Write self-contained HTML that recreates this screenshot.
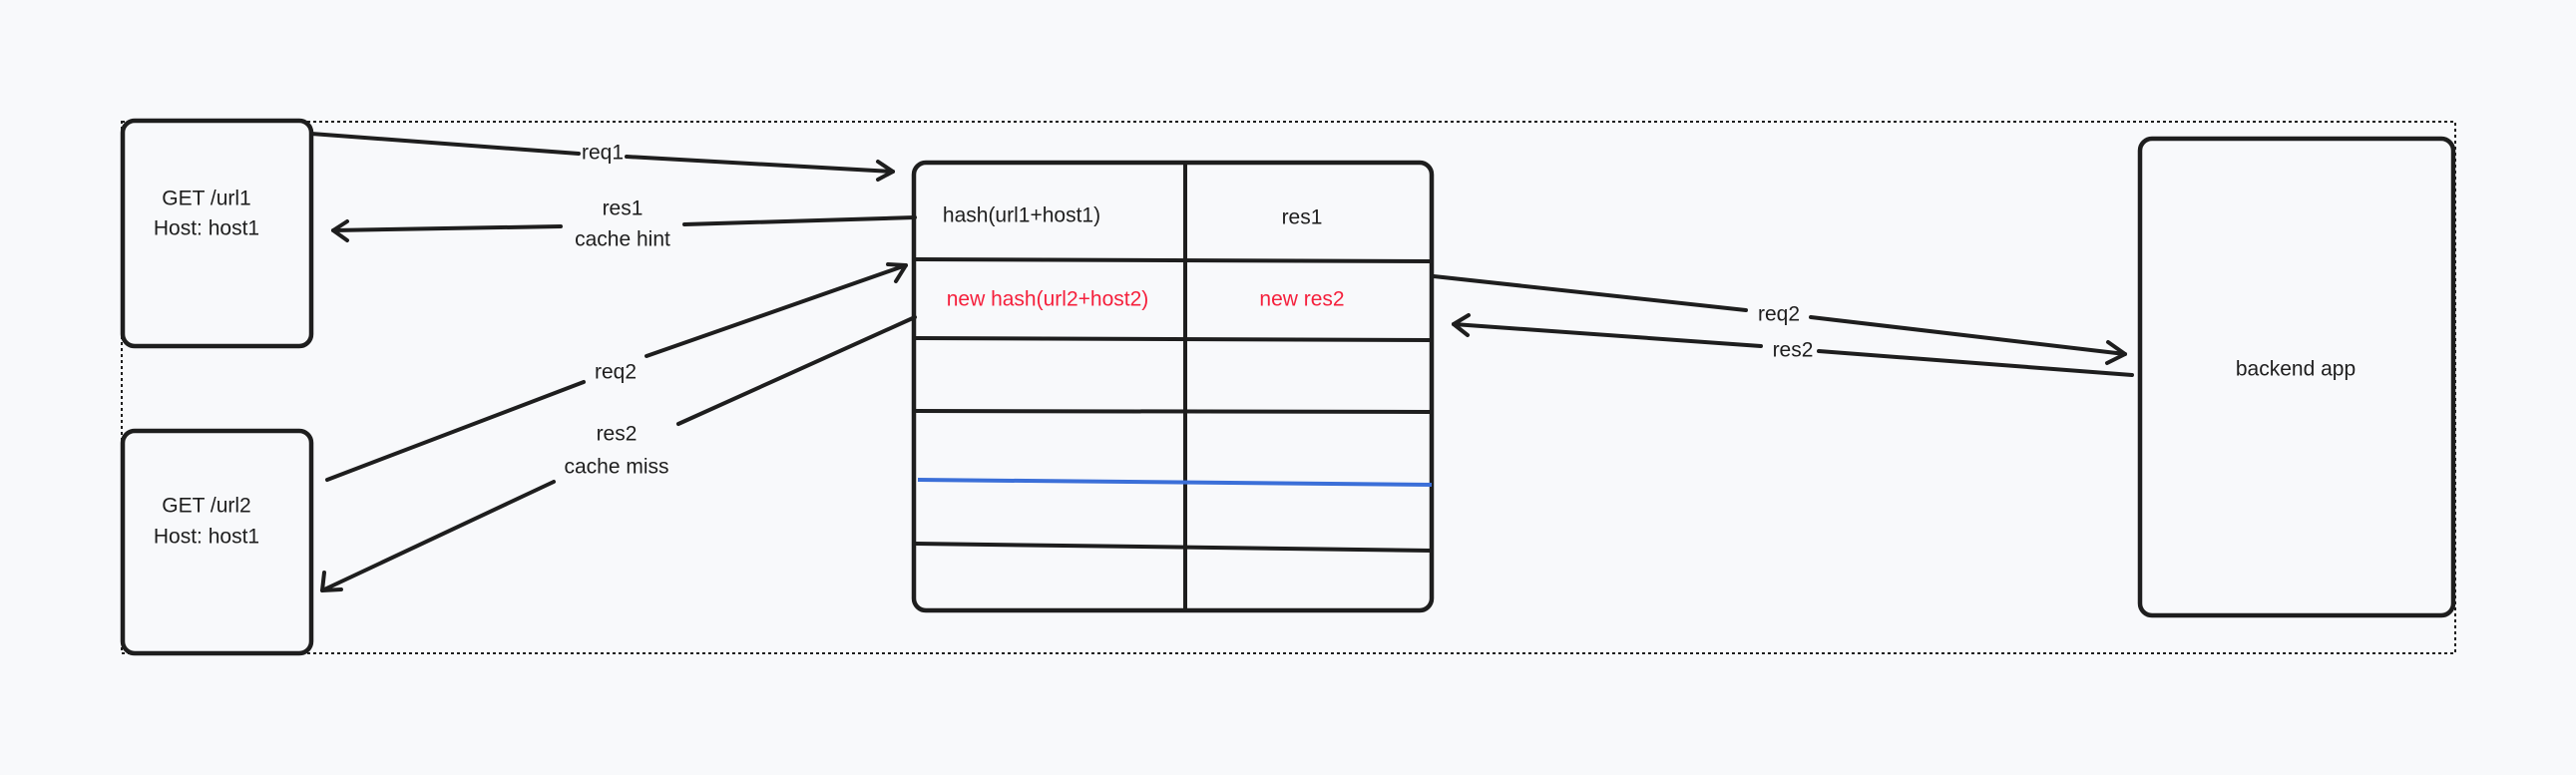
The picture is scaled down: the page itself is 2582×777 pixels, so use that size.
<!DOCTYPE html>
<html><head><meta charset="utf-8"><style>
html,body{margin:0;padding:0;background:#f8f9fb;}
svg{display:block}
text{font-family:"Liberation Sans Narrow","Liberation Sans",sans-serif;font-size:21px;fill:#1e1e1e;text-anchor:middle;dominant-baseline:middle}
.r{fill:#f5203c}
</style></head><body>
<svg width="2582" height="777" viewBox="0 0 2582 777" xmlns="http://www.w3.org/2000/svg">
<rect x="0" y="0" width="2582" height="777" fill="#f8f9fb"/>
<rect x="122" y="122" width="2339" height="533" fill="none" stroke="#1e1e1e" stroke-width="2" stroke-dasharray="3,3"/>
<g fill="#f8f9fb" stroke="#1e1e1e" stroke-width="4.5" stroke-linecap="round">
<rect x="123" y="121" width="189" height="226" rx="12"/>
<rect x="123" y="432" width="189" height="223" rx="12"/>
<rect x="916" y="163" width="519" height="449" rx="12"/>
<rect x="2145" y="139" width="314" height="478" rx="12"/>
</g>
<g stroke="#1e1e1e" stroke-width="4" fill="none" stroke-linecap="round" stroke-linejoin="round">
<line x1="1188" y1="163" x2="1188" y2="612"/>
<line x1="918" y1="260" x2="1435" y2="262"/>
<line x1="918" y1="339" x2="1435" y2="341"/>
<line x1="918" y1="412" x2="1433" y2="413"/>
<line x1="918" y1="545" x2="1435" y2="552"/>
</g>
<line x1="920" y1="481" x2="1435" y2="486" stroke="#3b6fd8" stroke-width="4"/>
<g stroke="#1e1e1e" stroke-width="4" fill="none" stroke-linecap="round" stroke-linejoin="round">
<path d="M312 134 L580 154 M628 157 L895 172"/>
<path d="M880 162 L895 172 L880 180"/>
<path d="M917 218 L686 225 M562 227 L334 231"/>
<path d="M348 222 L334 231 L348 241"/>
<path d="M328 481 L585 383 M648 357 L908 266"/>
<path d="M890 265 L908 266 L898 282"/>
<path d="M917 318 L680 425 M555 483 L323 592"/>
<path d="M325 574 L323 592 L342 591"/>
<path d="M1437 277 L1750 311 M1815 318 L2130 355"/>
<path d="M2113 343 L2130 355 L2112 364"/>
<path d="M2137 376 L1823 352 M1765 347 L1457 325"/>
<path d="M1472 316 L1457 325 L1471 336"/>
</g>
<text x="207" y="200">GET /url1</text>
<text x="207" y="230">Host: host1</text>
<text x="207" y="508">GET /url2</text>
<text x="207" y="539">Host: host1</text>
<text x="1024" y="217">hash(url1+host1)</text>
<text x="1305" y="219">res1</text>
<text class="r" x="1050" y="301">new hash(url2+host2)</text>
<text class="r" x="1305" y="301">new res2</text>
<text x="2301" y="371">backend app</text>
<text x="604" y="154">req1</text>
<text x="624" y="210">res1</text>
<text x="624" y="241">cache hint</text>
<text x="617" y="374">req2</text>
<text x="618" y="436">res2</text>
<text x="618" y="469">cache miss</text>
<text x="1783" y="316">req2</text>
<text x="1797" y="352">res2</text>
</svg>
</body></html>
